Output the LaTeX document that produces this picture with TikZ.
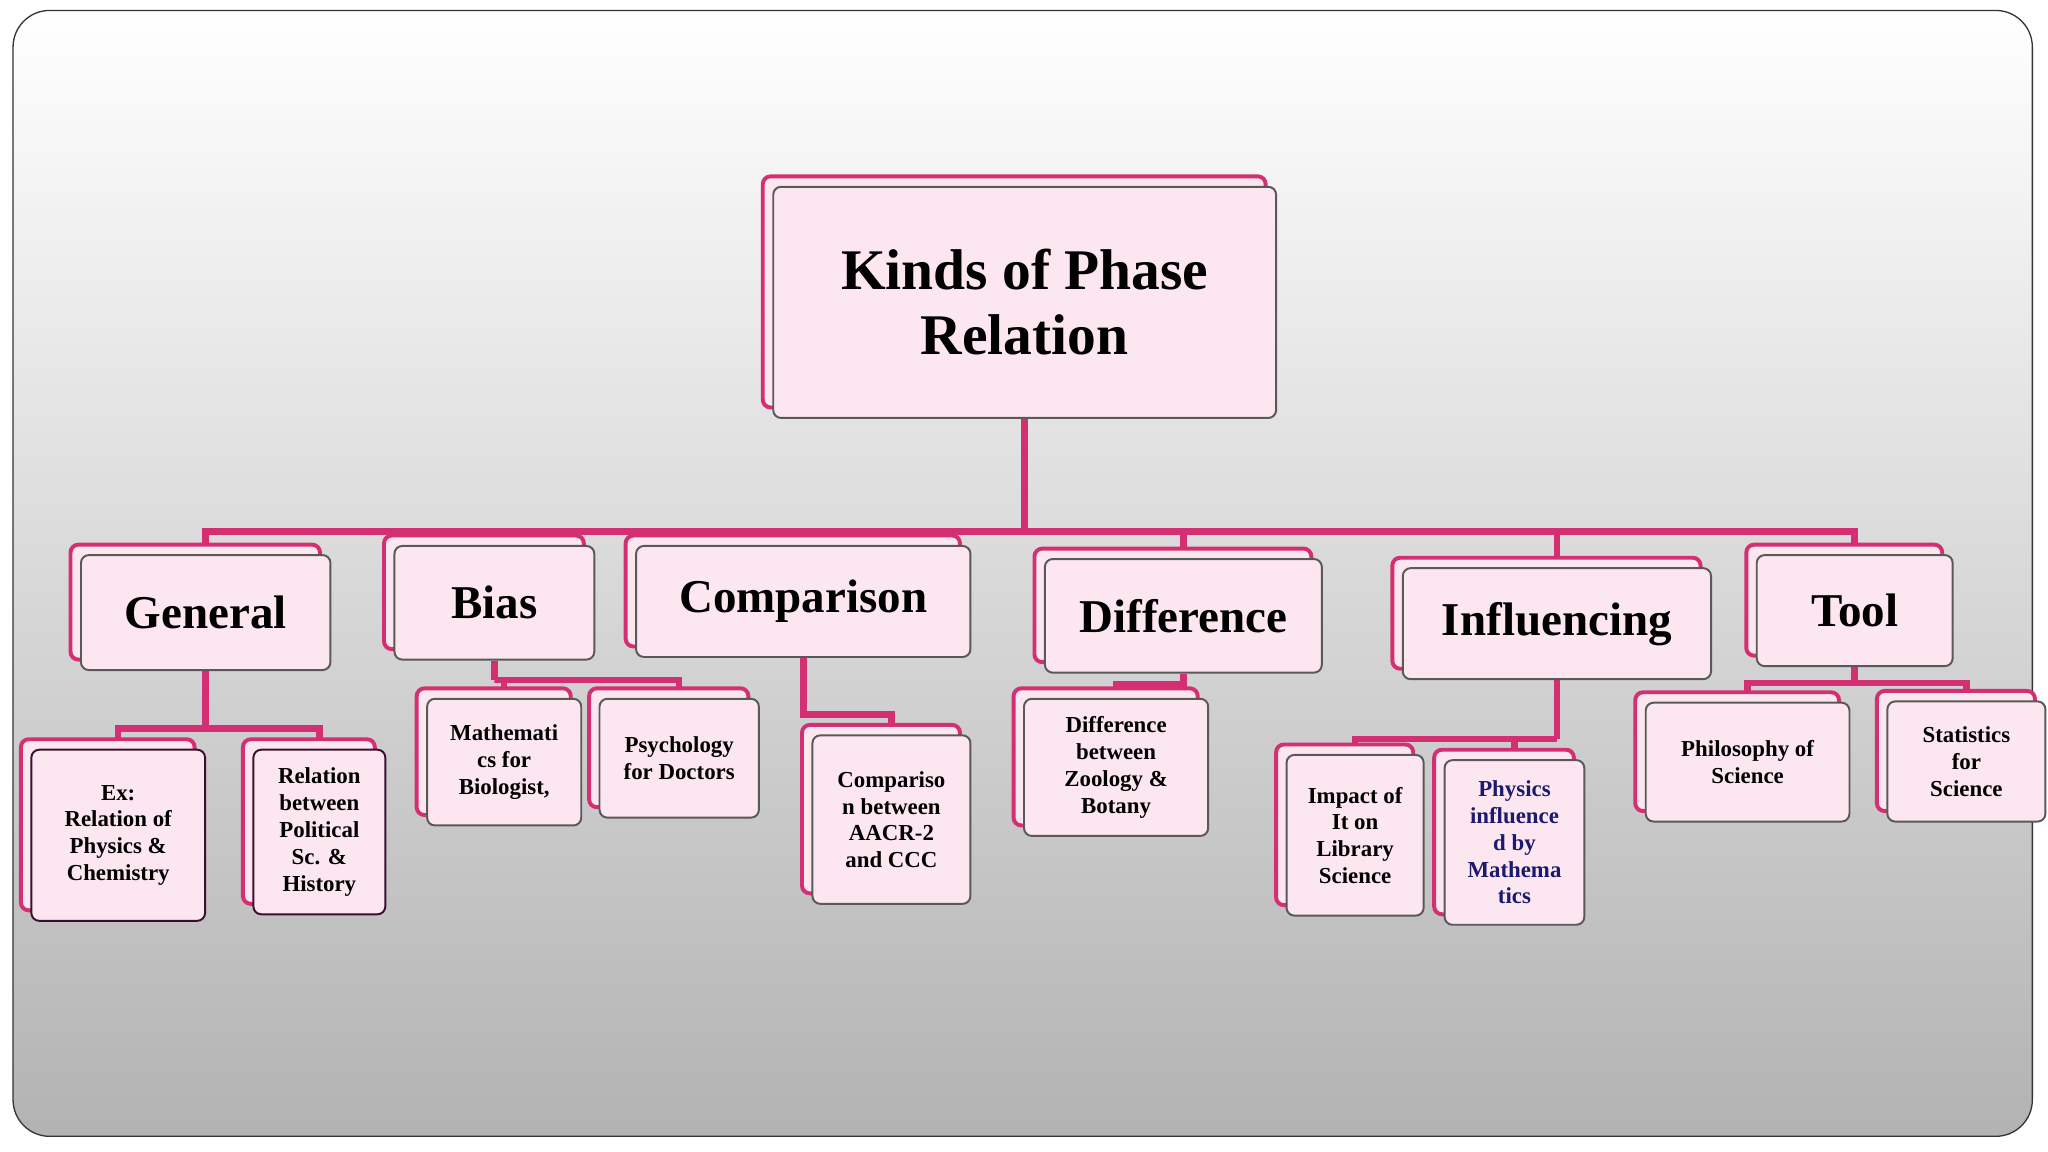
\documentclass[tikz,border=0pt]{standalone}
\usepackage{fontspec}
\setmainfont{Liberation Serif}
\usetikzlibrary{calc}
\definecolor{pinkline}{HTML}{D42F72}
\definecolor{pinkfill}{HTML}{FCE6EF}
\definecolor{navy}{HTML}{1A1A6E}
\definecolor{darkpurp}{HTML}{3A1030}
\pgfdeclarelayer{bgbg}\pgfdeclarelayer{bg}\pgfsetlayers{bgbg,bg,main}
\tikzset{
 back/.style={draw=pinkline,line width=3pt,fill=pinkfill,rounded corners=6pt},
 front/.style={draw=gray!70!black,line width=1.5pt,fill=pinkfill,rounded corners=6pt,align=center,font=\bfseries,inner sep=2pt},
 big/.style={font=\fontsize{36}{40}\selectfont\bfseries},
 small/.style={font=\fontsize{17.5}{20.5}\selectfont\bfseries},
 conn/.style={draw=pinkline,line width=5pt}
}
% #1 front style, #2 name, #3 x1, #4 y1, #5 x2, #6 y2, #7 text
\newcommand{\pbox}[7][]{%
 \path[back] (#3-8,#4-8) rectangle (#5-8,#6-8);
 \node[front,#1,minimum width=#5-#3,minimum height=#6-#4] (#2) at ({(#3+#5)/2},{(#4+#6)/2}) {#7};}
\begin{document}
\begin{tikzpicture}[x=1pt,y=-1pt]
\useasboundingbox (0,0) rectangle (1568,882);
\begin{pgfonlayer}{bgbg}
\shade[top color=white,bottom color=black!30,rounded corners=28pt,draw=black!80,line width=1pt] (10,8) rectangle (1556,870);
\end{pgfonlayer}
\pbox[font=\fontsize{44}{50}\selectfont\bfseries]{title}{592}{143}{977}{320}{Kinds of Phase\\Relation}
\pbox[big]{gen}{62}{425}{253}{513}{General}
\pbox[big]{bias}{302}{418}{455}{505}{Bias}
\pbox[big]{comp}{487}{418}{743}{503}{Comparison}
\pbox[big]{diff}{800}{428}{1012}{515}{Difference}
\pbox[big]{infl}{1074}{435}{1310}{520}{Influencing}
\pbox[big]{tool}{1345}{425}{1495}{510}{Tool}
\pbox[small,draw=darkpurp]{ex}{24}{574}{157}{705}{Ex:\\Relation of\\Physics \&\\Chemistry}
\pbox[small,draw=darkpurp]{rel}{194}{574}{295}{700}{Relation\\between\\Political\\Sc. \&\\History}
\pbox[small]{math}{327}{535}{445}{632}{Mathemati\\cs for\\Biologist,}
\pbox[small]{psy}{459}{535}{581}{626}{Psychology\\for Doctors}
\pbox[small]{compc}{622}{563}{743}{692}{Compariso\\n between\\AACR-2\\and CCC}
\pbox[small]{diffc}{784}{535}{925}{640}{Difference\\between\\Zoology \&\\Botany}
\pbox[small]{imp}{985}{578}{1090}{701}{Impact of\\It on\\Library\\Science}
\pbox[small,text=navy]{phys}{1106}{582}{1213}{708}{Physics\\influence\\d by\\Mathema\\tics}
\pbox[small]{phil}{1260}{538}{1416}{629}{Philosophy of\\Science}
\pbox[small]{stat}{1445}{537}{1566}{629}{Statistics\\for\\Science}
\begin{pgfonlayer}{bg}
\draw[conn] (title.south) -- ++(0,86) coordinate (bus);
\foreach \n in {gen,bias,comp,diff,infl,tool} \draw[conn] (\n.north) |- (bus);
\draw[conn] (gen.south) -- ++(0,44) coordinate (g);
\draw[conn] (ex.north) |- (g) -| (rel.north);
\draw[conn] (bias.south) -- ++(0,15) coordinate (b);
\draw[conn] (math.north) |- (b) -| (psy.north);
\draw[conn] (comp.south) |- (compc.north |- 0,547) -- (compc.north);
\draw[conn] (diff.south) -- ++(0,8) -| (diffc.north);
\draw[conn] (infl.south) -- ++(0,45) coordinate (i);
\draw[conn] (imp.north) |- (i) -| (phys.north);
\draw[conn] (tool.south) -- ++(0,12) coordinate (t);
\draw[conn] (phil.north) |- (t) -| (stat.north);
\end{pgfonlayer}
\end{tikzpicture}
\end{document}
